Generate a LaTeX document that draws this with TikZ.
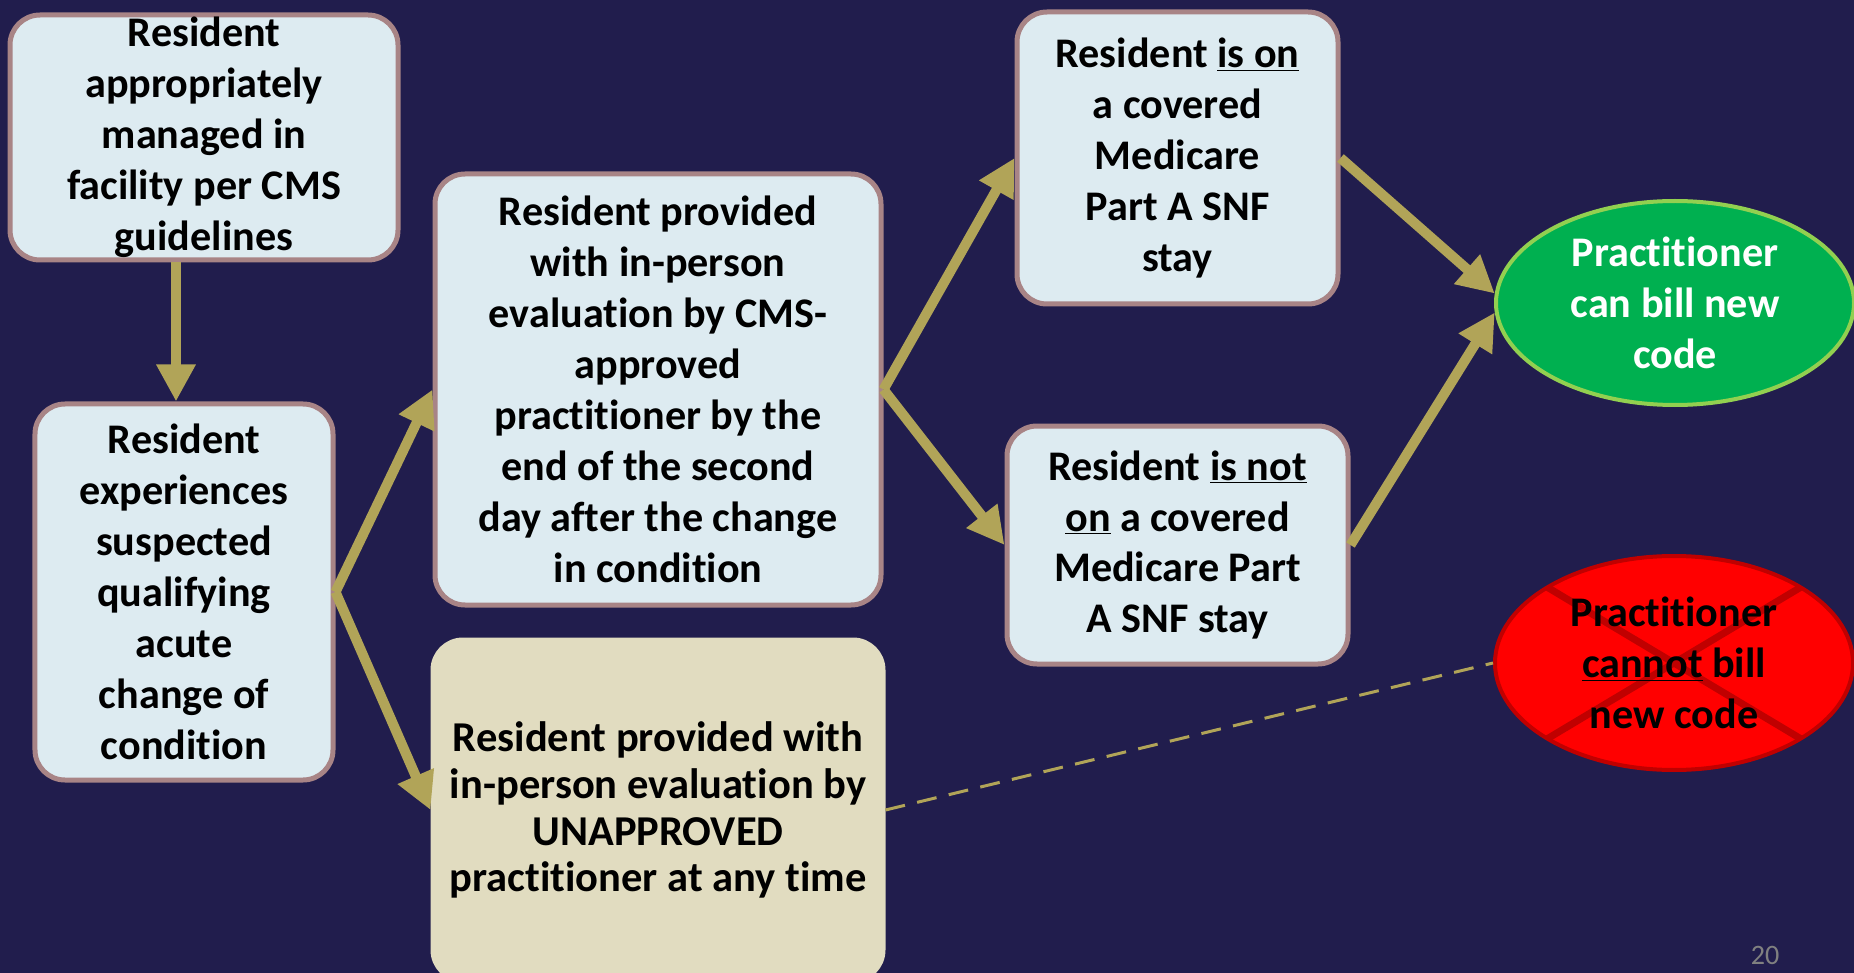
\documentclass[tikz,border=0pt]{standalone}
\usepackage{fontspec}
\setmainfont{Carlito}[RawFeature={-liga;-clig;-calt;-dlig;-rlig}]
\usetikzlibrary{arrows.meta,shapes.geometric}
\definecolor{slidebg}{RGB}{33,29,77}
\definecolor{boxblue}{RGB}{221,235,241}
\definecolor{boxedge}{RGB}{168,132,134}
\definecolor{boxbeige}{RGB}{225,220,192}
\definecolor{flowolive}{RGB}{177,164,88}
\definecolor{okgreen}{RGB}{0,176,80}
\definecolor{okedge}{RGB}{146,208,80}
\definecolor{nored}{RGB}{255,0,0}
\definecolor{noedge}{RGB}{192,0,0}
\begin{document}
\begin{tikzpicture}[
  stepbox/.style={rectangle, rounded corners=0.6cm, fill=boxblue, draw=boxedge, line width=0.1cm,
    inner sep=0pt, align=center, font=\bfseries\fontsize{24}{29}\selectfont},
  flow/.style={draw=flowolive, line width=0.2cm, -{Triangle[length=0.74cm,width=0.74cm]}},
  result/.style={ellipse, inner sep=0pt, line width=0.08cm, align=center,
    minimum width=7.16cm, font=\bfseries\fontsize{24}{29}\selectfont}
]
\useasboundingbox[fill=slidebg] (0,0) rectangle (37.08,-19.46);
% boxes
\node[stepbox, minimum width=7.76cm, minimum height=4.9cm] (managed) at (4.08,-2.75)
  {Resident\\appropriately\\managed in\\facility per CMS\\guidelines};
\node[stepbox, minimum width=5.96cm, minimum height=7.52cm] (change) at (3.68,-11.84)
  {Resident\\experiences\\suspected\\qualifying\\acute\\change of\\condition};
\node[stepbox, minimum width=8.92cm, minimum height=8.62cm] (approved) at (13.16,-7.79)
  {Resident provided\\with in-person\\evaluation by CMS-\\approved\\practitioner by the\\end of the second\\day after the change\\in condition};
\node[stepbox, fill=boxbeige, draw=boxbeige, minimum width=9cm, minimum height=6.8cm,
  font=\bfseries\fontsize{24.2}{26.7}\selectfont] (unapproved) at (13.16,-16.2)
  {Resident provided with\\in-person evaluation by\\UNAPPROVED\\practitioner at any time};
\node[stepbox, minimum width=6.42cm, minimum height=5.84cm] (ison) at (23.55,-3.16)
  {Resident \underline{is on}\\a covered\\Medicare\\Part A SNF\\stay};
\node[stepbox, minimum width=6.82cm, minimum height=4.76cm] (isnot) at (23.55,-10.9)
  {Resident \underline{is not}\\\underline{on} a covered\\Medicare Part\\A SNF stay};
% outcomes
\node[result, fill=okgreen, draw=okedge, text=white, minimum height=4.08cm] (canbill) at (33.5,-6.06)
  {Practitioner\\can bill new\\code};
\node[result, fill=nored, draw=noedge, minimum height=4.28cm,
  path picture={\draw[noedge, line width=0.14cm]
    (path picture bounding box.north west) -- (path picture bounding box.south east)
    (path picture bounding box.north east) -- (path picture bounding box.south west);}] (cannotbill) at (33.48,-13.26)
  {Practitioner\\\underline{cannot} bill\\new code};
% arrows
\draw[flow] ([xshift=-0.16cm]change.north |- managed.south) -- ([xshift=-0.16cm]change.north);
\draw[flow] (change.east) -- (approved.west);
\draw[flow] (change.east) -- (unapproved.west);
\draw[flow] (approved.east) -- (ison.west);
\draw[flow] (approved.east) -- (isnot.west);
\draw[flow] (ison.east) -- (canbill.177);
\draw[flow] (isnot.east) -- (canbill.183);
\draw[flowolive, line width=0.06cm, dash pattern=on 0.4cm off 0.25cm] (unapproved.east) -- (cannotbill.west);
% slide number
\node[text=gray, font=\fontsize{16}{19}\selectfont] (slideno) at (35.3,-19.1) {20};
\end{tikzpicture}
\end{document}
